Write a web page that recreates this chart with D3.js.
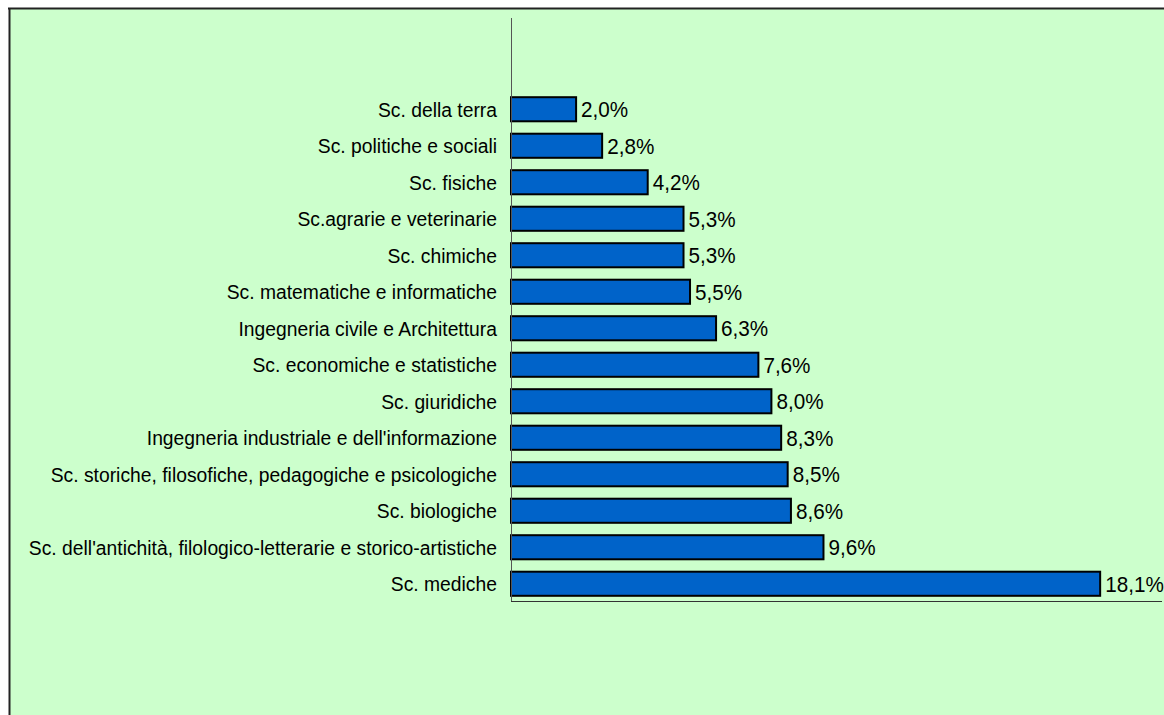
<!DOCTYPE html>
<html>
<head>
<meta charset="utf-8">
<style>
  body { margin: 0; background: #fff; }
  svg { display: block; }
  text { font-family: 'Liberation Sans', Arial, sans-serif; fill: #000; }
</style>
</head>
<body>
<svg width="1164" height="715"></svg>
<script src="https://d3js.org/d3.v7.min.js"></script>
<script>
  // categories, top to bottom
  var categories = [
    "Sc. della terra",
    "Sc. politiche e sociali",
    "Sc. fisiche",
    "Sc.agrarie e veterinarie",
    "Sc. chimiche",
    "Sc. matematiche e informatiche",
    "Ingegneria civile e Architettura",
    "Sc. economiche e statistiche",
    "Sc. giuridiche",
    "Ingegneria industriale e dell'informazione",
    "Sc. storiche, filosofiche, pedagogiche e psicologiche",
    "Sc. biologiche",
    "Sc. dell'antichità, filologico-letterarie e storico-artistiche",
    "Sc. mediche"
  ];
  var values = [2.0, 2.8, 4.2, 5.3, 5.3, 5.5, 6.3, 7.6, 8.0, 8.3, 8.5, 8.6, 9.6, 18.1];
  var xDomain = [0, 20];

  var svg = d3.select("svg");

  // panel background with black border on left/top
  svg.append("rect")
    .attr("x", 10).attr("y", 9)
    .attr("width", 1164).attr("height", 715)
    .attr("fill", "#ccffcc");
  svg.append("line")
    .attr("x1", 9.5).attr("x2", 9.5).attr("y1", 8).attr("y2", 715)
    .attr("stroke", "#222").attr("stroke-width", 2);
  svg.append("line")
    .attr("x1", 8).attr("x2", 1164).attr("y1", 8.5).attr("y2", 8.5)
    .attr("stroke", "#222").attr("stroke-width", 2);

  var plotLeft = 511, plotRight = 1162, plotTop = 18, plotBottom = 602;
  var step = (plotBottom - plotTop) / 16;

  var x = d3.scaleLinear().domain(xDomain).range([plotLeft, plotRight]);
  var y = d3.scaleBand()
    .domain(categories)
    .range([plotTop + 2 * step, plotBottom])
    .paddingInner(0.34)
    .paddingOuter(0.17);

  var g = svg.append("g");

  g.selectAll("rect.bar")
    .data(values)
    .enter().append("rect")
    .attr("class", "bar")
    .attr("x", x(0))
    .attr("y", function(d, i) { return y(categories[i]); })
    .attr("width", function(d) { return x(d) - x(0); })
    .attr("height", y.bandwidth())
    .attr("fill", "#0063c9")
    .attr("stroke", "#000")
    .attr("stroke-width", 2);

  // value labels (text in the original is slightly condensed)
  g.selectAll("text.val")
    .data(values)
    .enter().append("text")
    .attr("class", "val")
    .attr("transform", function(d, i) {
      return "translate(" + (x(d) + 5) + "," + (y(categories[i]) + y.bandwidth() / 2) + ") scale(0.94,1)";
    })
    .attr("dy", "0.36em")
    .attr("font-size", 22)
    .text(function(d) { return d.toFixed(1).replace(".", ",") + "%"; });

  // category labels
  g.selectAll("text.cat")
    .data(categories)
    .enter().append("text")
    .attr("class", "cat")
    .attr("transform", function(d) {
      return "translate(" + (plotLeft - 14) + "," + (y(d) + y.bandwidth() / 2) + ") scale(0.92,1)";
    })
    .attr("dy", "0.36em")
    .attr("text-anchor", "end")
    .attr("font-size", 21)
    .text(function(d) { return d; });

  // axes lines
  svg.append("line")
    .attr("x1", plotLeft + 0.5).attr("x2", plotLeft + 0.5)
    .attr("y1", plotTop).attr("y2", plotBottom)
    .attr("stroke", "#555").attr("stroke-width", 1);
  svg.append("line")
    .attr("x1", plotLeft).attr("x2", plotRight)
    .attr("y1", plotBottom - 0.5).attr("y2", plotBottom - 0.5)
    .attr("stroke", "#333").attr("stroke-width", 1);
</script>
</body>
</html>
